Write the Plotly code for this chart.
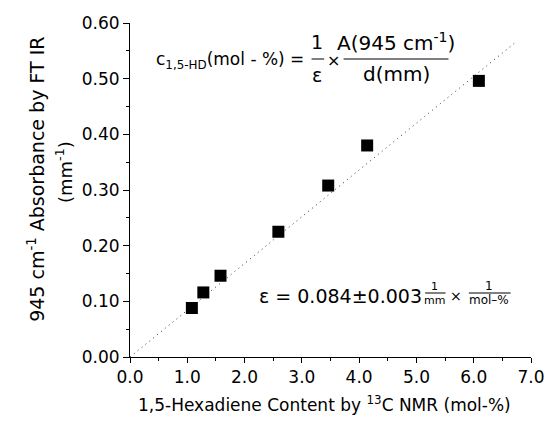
import plotly.graph_objects as go

# 1,5-hexadiene content (13C NMR, mol-%) vs. 945 cm-1 FT-IR absorbance (per mm)
content = [1.08, 1.28, 1.58, 2.59, 3.46, 4.14, 6.09]
absorbance = [0.088, 0.116, 0.146, 0.225, 0.308, 0.380, 0.496]

# calibration constant (slope of the line through the origin)
EPS = 0.084
fit_x = [0.0, 6.72]
fit_y = [EPS * v for v in fit_x]

x_ticks = [0, 1, 2, 3, 4, 5, 6, 7]
y_ticks = [0.0, 0.1, 0.2, 0.3, 0.4, 0.5, 0.6]

FONT = "DejaVu Sans"
W, H = 557, 430
L, R, T, B = 130, 543, 23, 357


def px(x):
    return (x - L) / (R - L)


def py(y):
    return (B - y) / (B - T)


fig = go.Figure()

fig.add_trace(go.Scatter(
    x=fit_x, y=fit_y, mode="lines",
    line=dict(color="#333333", width=1, dash="1px,4px"),
    hoverinfo="skip", showlegend=False,
))
fig.add_trace(go.Scatter(
    x=content, y=absorbance, mode="markers",
    marker=dict(symbol="square", size=12, color="black", line=dict(width=0)),
    showlegend=False,
))

axis_common = dict(
    showline=True, linecolor="black", linewidth=1,
    ticks="outside", tickcolor="black", tickwidth=1,
    showgrid=False, zeroline=False, mirror=False,
    tickfont=dict(family=FONT, size=17, color="black"),
)

fig.update_xaxes(
    range=[0, 7], tickvals=x_ticks, tickformat=".1f", ticklen=5,
    minor=dict(dtick=0.5, ticklen=3, ticks="outside", tickcolor="black"),
    **axis_common,
)
fig.update_yaxes(
    range=[0, 0.6], tickvals=y_ticks, tickformat=".2f", ticklen=6,
    minor=dict(dtick=0.05, ticklen=3, ticks="outside", tickcolor="black"),
    **axis_common,
)

ann = []


def text(x, y, s, size, xanchor="center", angle=0):
    ann.append(dict(
        x=px(x), y=py(y), xref="paper", yref="paper", text=s, showarrow=False,
        xanchor=xanchor, yanchor="middle", textangle=angle,
        font=dict(family=FONT, size=size, color="black"),
    ))


shapes = []


def bar(x0, x1, y):
    shapes.append(dict(
        type="line", xref="paper", yref="paper",
        x0=px(x0), x1=px(x1), y0=py(y), y1=py(y),
        line=dict(color="black", width=1),
    ))


# axis titles
text(330, 404, "1,5-Hexadiene Content by <sup>13</sup>C NMR (mol-%)", 17)
text(33, 179, "945 cm<sup>-1</sup> Absorbance by FT IR", 19, angle=-90)
text(62, 172, "(mm<sup>-1</sup>)", 18, angle=-90)

# defining equation
text(155, 60, "c<sub>1,5-HD</sub>(mol - %) =", 17, xanchor="left")
text(323, 42, "1", 19)
bar(317, 330, 59)
text(323, 75, "ε", 19)
text(340, 60, "×", 16)
text(404, 42, "A(945 cm<sup>-1</sup>)", 20)
bar(350, 458, 59)
text(404, 74, "d(mm)", 20)

# calibration result
text(261, 296, "ε = 0.084±0.003", 19, xanchor="left")
text(444, 286, "1", 11)
bar(434, 455, 293)
text(444, 300, "mm", 11)
text(466, 296, "×", 14)
text(500, 286, "1", 12)
bar(479, 522, 293)
text(500, 300, "mol–%", 12)

fig.update_layout(
    width=W, height=H,
    margin=dict(l=L, r=W - R, t=T, b=H - B, pad=0),
    paper_bgcolor="white", plot_bgcolor="white",
    annotations=ann, shapes=shapes,
    font=dict(family=FONT, color="black"),
)

fig.write_html("out.html")
